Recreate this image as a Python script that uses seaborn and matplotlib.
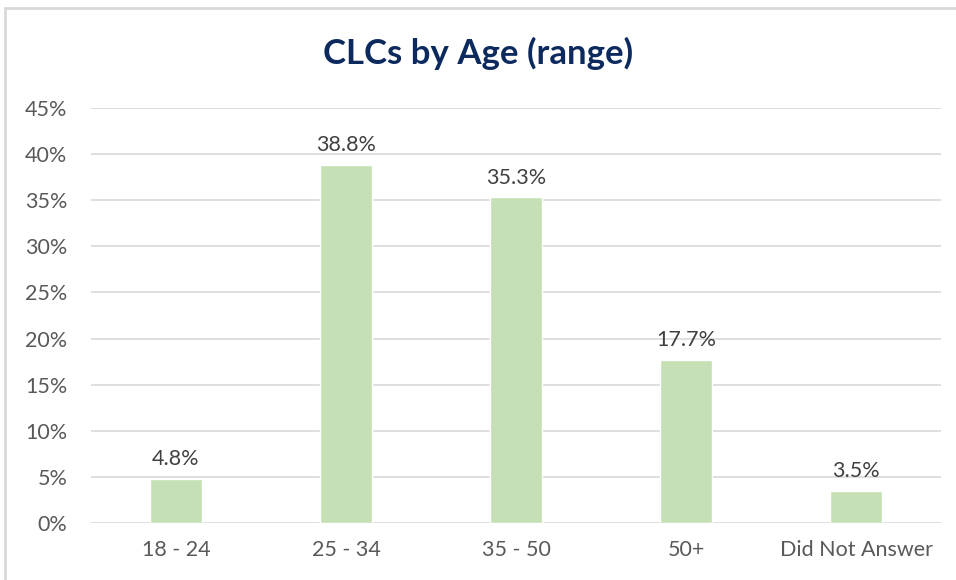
import matplotlib
matplotlib.use("Agg")
import matplotlib.pyplot as plt
import seaborn as sns
import pandas as pd
from matplotlib.patches import Rectangle

age_ranges = ["18 - 24", "25 - 34", "35 - 50", "50+", "Did Not Answer"]
share_pct = [4.8, 38.8, 35.3, 17.7, 3.5]
y_ticks = [0, 5, 10, 15, 20, 25, 30, 35, 40, 45]

df = pd.DataFrame({"age": age_ranges, "pct": share_pct})

sns.set_theme(style="white")
plt.rcParams["font.family"] = ["Lato", "DejaVu Sans"]

fig = plt.figure(figsize=(9.56, 5.8), dpi=100)
ax = fig.add_axes([91 / 956, 1 - 523 / 580, 850 / 956, 415 / 580])

sns.barplot(data=df, x="age", y="pct", color="#C5E0B4", width=0.31,
            saturation=1, ax=ax, zorder=3)

ax.set_ylim(0, 45)
ax.set_yticks(y_ticks)
ax.set_yticklabels([f"{t}%" for t in y_ticks])
ax.set_xlim(-0.5, len(age_ranges) - 0.5)
ax.grid(axis="y", color="#D9D9D9", linewidth=1.2, zorder=0)
ax.set_xlabel("")
ax.set_ylabel("")
for s in ax.spines.values():
    s.set_visible(False)
ax.tick_params(axis="both", length=0, labelsize=15.5, labelcolor="#595959")
ax.tick_params(axis="y", pad=17)
ax.tick_params(axis="x", pad=12)

for i, v in enumerate(share_pct):
    ax.annotate(f"{v}%", (i, v), xytext=(0, 7), textcoords="offset points",
                ha="center", va="bottom", fontsize=15.5, color="#404040")

fig.text(0.5, 1 - 53 / 580, "CLCs by Age (range)", ha="center", va="center",
         fontsize=25, fontweight="bold", color="#0D2A5E")

fig.patches.append(Rectangle((5 / 956, -0.01), 960 / 956, 1 - 8 / 580 + 0.01,
                             transform=fig.transFigure, fill=False,
                             edgecolor="#D9D9D9", linewidth=2))

fig.savefig("out.png", dpi=100)
